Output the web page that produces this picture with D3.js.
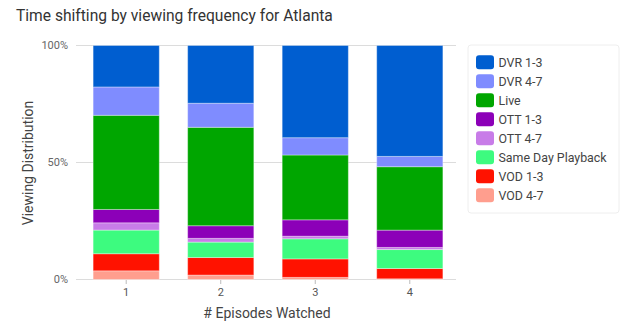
<!DOCTYPE html>
<html><head><meta charset="utf-8">
<script src="https://cdn.jsdelivr.net/npm/d3@7/dist/d3.min.js"></script>
<style>
body{margin:0;background:#fff;}
svg{display:block;font-family:Roboto, "DejaVu Sans", sans-serif;}
</style></head>
<body><svg id="chart" width="624" height="331"></svg>
<script>
const categories = ["1", "2", "3", "4"];
const seriesNames = ["DVR 1-3", "DVR 4-7", "Live", "OTT 1-3", "OTT 4-7", "Same Day Playback", "VOD 1-3", "VOD 4-7"];
const colors = ["#005ed0", "#7f8cff", "#00a600", "#8c00b8", "#c87ce8", "#3dfb7f", "#ff1200", "#ff9e8e"];
const dvr13 = [17.7, 24.7, 39.4, 47.4];
const dvr47 = [12.1, 10.3, 7.4, 4.4];
const live = [40.2, 42.1, 27.7, 27.1];
const ott13 = [5.7, 5.4, 7.0, 7.4];
const ott47 = [3.1, 1.6, 1.1, 0.9];
const sameDay = [10.1, 6.6, 8.6, 8.1];
const vod13 = [7.3, 7.5, 7.9, 4.4];
const vod47 = [3.7, 1.9, 0.9, 0.3];
const yTicks = [0, 0.5, 1];
const yTickLabels = ["0%", "50%", "100%"];

const seriesValues = [dvr13, dvr47, live, ott13, ott47, sameDay, vod13, vod47];
const rows = categories.map((c, i) => {
  const r = {cat: c};
  seriesNames.forEach((s, j) => r[s] = seriesValues[j][i]);
  return r;
});
const stackOrder = seriesNames.slice().reverse();
const stacked = d3.stack().keys(stackOrder).offset(d3.stackOffsetExpand)(rows);

const svg = d3.select("#chart");
const x = d3.scaleBand().domain(categories).range([78, 458]).paddingInner(0.3).paddingOuter(0.16);
const y = d3.scaleLinear().domain([0, 1]).range([279.5, 45.5]);
const color = d3.scaleOrdinal().domain(seriesNames).range(colors);

svg.append("text").attr("x", 16).attr("y", 21).attr("fill", "#333").attr("font-size", 15.6).text("Time shifting by viewing frequency for Atlanta");

svg.append("g").selectAll("line").data(yTicks).join("line")
  .attr("x1", 76).attr("x2", 456).attr("y1", d => y(d)).attr("y2", d => y(d))
  .attr("stroke", "#dcdcdc").attr("stroke-width", 1.2);

svg.append("g").selectAll("text").data(yTicks).join("text")
  .attr("x", 68).attr("y", d => y(d)).attr("dy", "0.35em").attr("text-anchor", "end")
  .attr("font-size", 11).attr("fill", "#666").text((d, i) => yTickLabels[i]);

svg.append("g").selectAll("g").data(stacked).join("g")
  .attr("fill", d => color(d.key))
  .selectAll("rect").data(d => d).join("rect")
  .attr("x", d => x(d.data.cat)).attr("width", x.bandwidth())
  .attr("y", d => y(d[1])).attr("height", d => y(d[0]) - y(d[1]))
  .attr("stroke", "rgba(255,255,255,0.35)").attr("stroke-width", 1);

svg.append("g").selectAll("line").data(categories).join("line")
  .attr("x1", d => x(d) + x.bandwidth() / 2).attr("x2", d => x(d) + x.bandwidth() / 2)
  .attr("y1", 280).attr("y2", 284).attr("stroke", "#bbb");
svg.append("g").selectAll("text").data(categories).join("text")
  .attr("x", d => x(d) + x.bandwidth() / 2).attr("y", 292).attr("dy", "0.35em").attr("text-anchor", "middle")
  .attr("font-size", 11).attr("fill", "#555").text(d => d);

svg.append("text").attr("x", 267).attr("y", 313).attr("dy", "0.35em").attr("text-anchor", "middle")
  .attr("font-size", 14).attr("fill", "#444").text("# Episodes Watched");
svg.append("text").attr("transform", "translate(28,163) rotate(-90)").attr("dy", "0.35em").attr("text-anchor", "middle")
  .attr("font-size", 14).attr("fill", "#444").text("Viewing Distribution");

const lg = svg.append("g");
lg.append("rect").attr("x", 468).attr("y", 45).attr("width", 151).attr("height", 168).attr("rx", 3)
  .attr("fill", "#fff").attr("stroke", "#eee");
const items = lg.selectAll("g").data(seriesNames).join("g")
  .attr("transform", (d, i) => `translate(476,${62.3 + i * 19})`);
items.append("rect").attr("x", 0).attr("y", -7).attr("width", 18).attr("height", 14).attr("rx", 3).attr("fill", d => color(d));
items.append("text").attr("x", 22.5).attr("dy", "0.35em").attr("font-size", 12.4).attr("fill", "#444").text(d => d);
</script></body></html>
